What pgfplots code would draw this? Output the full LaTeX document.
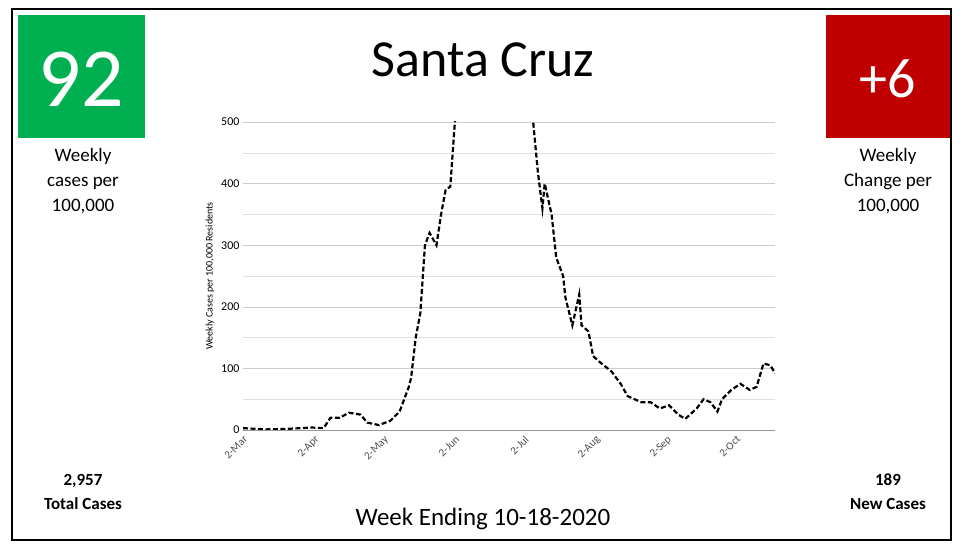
\documentclass[border=0pt]{standalone}
\usepackage{pgfplots}
\pgfplotsset{compat=1.18}
\usepackage{fontspec}
\setmainfont{Carlito}
\definecolor{gbox}{RGB}{0,176,80}
\definecolor{rbox}{RGB}{192,0,0}
\begin{document}
\begin{tikzpicture}
\path[use as bounding box] (0pt,0pt) rectangle (963pt,546pt);
\draw[line width=1.2pt] (12pt,6pt) rectangle (951pt,537pt);
\fill[gbox] (18pt,408pt) rectangle (145pt,531pt);
\fill[rbox] (826pt,408pt) rectangle (950pt,531pt);
\node[white,font=\fontsize{84}{84}\selectfont] at (81.5pt,467pt) {92};
\node[white,font=\fontsize{56}{56}\selectfont] at (888pt,467pt) {+6};
\node[align=center,font=\fontsize{19}{25}\selectfont] at (83pt,365pt) {Weekly\\cases per\\100,000};
\node[align=center,font=\fontsize{19}{25}\selectfont] at (888pt,365pt) {Weekly\\Change per\\100,000};
\node[align=center,font=\bfseries\fontsize{17}{24}\selectfont] at (83pt,54pt) {2,957\\Total Cases};
\node[align=center,font=\bfseries\fontsize{17}{24}\selectfont] at (888pt,54pt) {189\\New Cases};
\node[font=\fontsize{52}{52}\selectfont] at (483pt,486pt) {Santa Cruz};
\node[font=\fontsize{25}{25}\selectfont] at (483pt,27pt) {Week Ending 10-18-2020};
\begin{axis}[at={(243pt,116pt)},anchor=south west,scale only axis,width=532pt,height=308pt,
 xmin=0,xmax=231,ymin=0,ymax=500,
 xtick={0,31,61,92,122,153,184,214},
 xticklabels={2-Mar,2-Apr,2-May,2-Jun,2-Jul,2-Aug,2-Sep,2-Oct},
 xticklabel style={rotate=45,anchor=north east,font=\fontsize{11}{11}\selectfont,text=black!70},
 ytick={0,100,...,500},
 yticklabel style={font=\fontsize{12}{12}\selectfont},
 minor ytick={50,150,...,450},
 ymajorgrids,yminorgrids,
 grid style={black!20},minor grid style={black!12},
 axis line style={draw=none},x axis line style={draw=black!40},
 axis x line*=bottom, axis y line*=left,
 tick style={draw=none},
 ylabel={Weekly Cases per 100,000 Residents},
 ylabel style={font=\fontsize{10}{10}\selectfont},
 /pgf/number format/assume math mode=true]
\addplot[black,line width=2.2pt,dash pattern=on 5pt off 2.5pt] coordinates {
(0,3)(10,1)(20,2)(30,4)(35,3)(38,20)(42,20)(46,28)(51,25)(54,12)(59,8)(64,15)(68,30)(72,70)(73,85)(75,150)(77,190)(79,300)(81,320)(84,300)(86,350)(88,390)(90,395)(92,500)(100,800)(110,950)(120,800)(126,500)(128,420)(130,360)(131,400)(134,350)(136,280)(139,250)(140,215)(143,170)(146,220)(147,170)(150,160)(152,120)(155,110)(160,95)(164,75)(167,55)(173,45)(177,45)(181,35)(185,40)(189,25)(192,18)(197,35)(200,50)(203,45)(206,30)(208,50)(212,65)(216,75)(220,65)(223,70)(226,108)(229,105)(231,92)};
\end{axis}
\end{tikzpicture}
\end{document}
